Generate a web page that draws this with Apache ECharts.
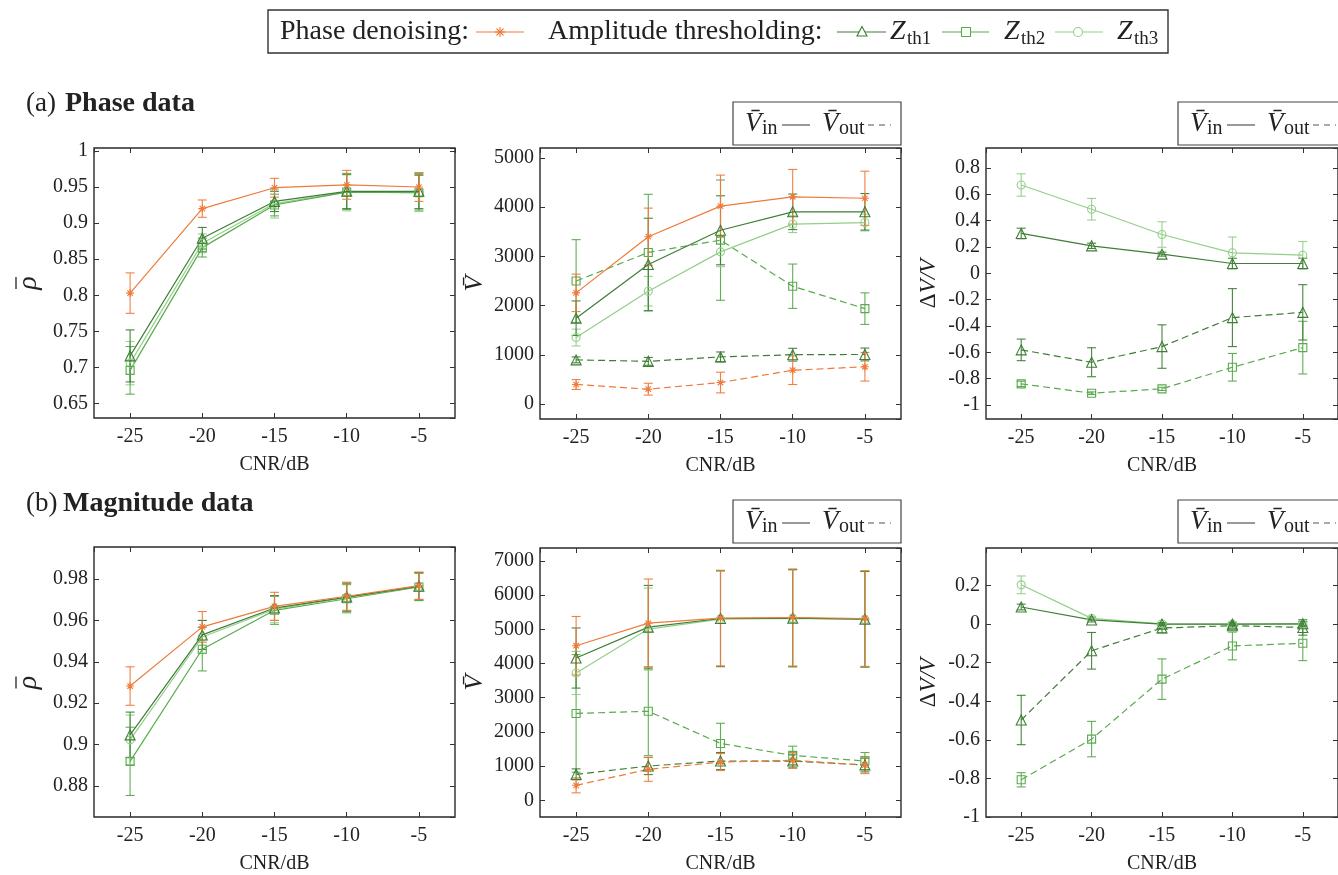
<!DOCTYPE html>
<html>
<head>
<meta charset="utf-8">
<script src="https://cdn.jsdelivr.net/npm/echarts@6/dist/echarts.min.js"></script>
<style>html,body{margin:0;padding:0;background:#fff}#c{width:1338px;height:875px}</style>
</head>
<body>
<div id="c"></div>
<script>
// ---------------- DATA ----------------
const cnr = [-25, -20, -15, -10, -5];

// (a) Phase data — mean correlation rho
const a_rho_phase = [0.803, 0.920, 0.949, 0.953, 0.950];
const a_rho_phase_err = [0.028, 0.012, 0.013, 0.020, 0.020];
const a_rho_z1 = [0.716, 0.879, 0.930, 0.944, 0.944];
const a_rho_z1_err = [0.036, 0.015, 0.014, 0.024, 0.024];
const a_rho_z2 = [0.696, 0.866, 0.925, 0.943, 0.942];
const a_rho_z2_err = [0.033, 0.013, 0.015, 0.024, 0.024];
const a_rho_z3 = [0.706, 0.872, 0.927, 0.943, 0.942];
const a_rho_z3_err = [0.030, 0.013, 0.020, 0.026, 0.026];

// (a) Phase data — mean V
const a_v_phase_in = [2260, 3400, 4020, 4210, 4180];
const a_v_phase_in_err = [380, 580, 630, 555, 550];
const a_v_phase_out = [400, 305, 440, 690, 760];
const a_v_phase_out_err = [100, 120, 210, 290, 290];
const a_v_z1_in = [1746, 2835, 3530, 3905, 3905];
const a_v_z1_in_err = [350, 940, 700, 360, 370];
const a_v_z1_out = [900, 870, 960, 1005, 1010];
const a_v_z1_out_err = [60, 80, 100, 130, 130];
const a_v_z2_out = [2500, 3080, 3330, 2395, 1940];
const a_v_z2_out_err = [840, 1180, 1220, 450, 320];
const a_v_z3_in = [1353, 2294, 3092, 3654, 3687];
const a_v_z3_in_err = [170, 300, 300, 170, 170];

// (a) Phase data — relative change dV/V
const a_dv_z3_in = [0.671, 0.487, 0.295, 0.156, 0.138];
const a_dv_z3_in_err = [0.085, 0.082, 0.097, 0.120, 0.104];
const a_dv_z1_in = [0.303, 0.209, 0.146, 0.075, 0.075];
const a_dv_z1_in_err = [0.040, 0.020, 0.015, 0.040, 0.040];
const a_dv_z1_out = [-0.581, -0.675, -0.556, -0.336, -0.296];
const a_dv_z1_out_err = [0.082, 0.110, 0.165, 0.220, 0.210];
const a_dv_z2_out = [-0.839, -0.910, -0.877, -0.713, -0.564];
const a_dv_z2_out_err = [0.020, 0.010, 0.012, 0.105, 0.200];

// (b) Magnitude data — mean correlation rho
const b_rho_phase = [0.9283, 0.9569, 0.9668, 0.9717, 0.9768];
const b_rho_phase_err = [0.0093, 0.0074, 0.0068, 0.0068, 0.0066];
const b_rho_z1 = [0.9047, 0.9530, 0.9660, 0.9713, 0.9765];
const b_rho_z1_err = [0.0110, 0.0070, 0.0060, 0.0068, 0.0066];
const b_rho_z2 = [0.8919, 0.9461, 0.9649, 0.9705, 0.9762];
const b_rho_z2_err = [0.0165, 0.0105, 0.0068, 0.0068, 0.0066];
const b_rho_z3 = [0.9023, 0.9520, 0.9654, 0.9710, 0.9765];
const b_rho_z3_err = [0.0120, 0.0080, 0.0065, 0.0068, 0.0066];

// (b) Magnitude data — mean V
const b_v_phase_in = [4521, 5182, 5328, 5347, 5318];
const b_v_phase_in_err = [855, 1290, 1400, 1420, 1400];
const b_v_phase_out = [437, 904, 1118, 1167, 1030];
const b_v_phase_out_err = [220, 350, 250, 230, 250];
const b_v_z1_in = [4161, 5065, 5318, 5328, 5298];
const b_v_z1_in_err = [880, 1220, 1400, 1420, 1400];
const b_v_z1_out = [758, 1001, 1147, 1147, 1030];
const b_v_z1_out_err = [160, 250, 250, 200, 200];
const b_v_z2_out = [2540, 2604, 1662, 1312, 1147];
const b_v_z2_out_err = [1720, 1300, 590, 270, 250];
const b_v_z3_in = [3723, 5007, 5300, 5320, 5290];
const b_v_z3_in_err = [630, 1200, 1400, 1420, 1400];

// (b) Magnitude data — relative change dV/V
const b_dv_z3_in = [0.204, 0.030, 0.002, 0.000, 0.000];
const b_dv_z3_in_err = [0.046, 0.010, 0.008, 0.008, 0.008];
const b_dv_z1_in = [0.089, 0.022, 0.000, 0.000, 0.002];
const b_dv_z1_in_err = [0.015, 0.010, 0.008, 0.010, 0.012];
const b_dv_z1_out = [-0.497, -0.138, -0.020, -0.008, -0.017];
const b_dv_z1_out_err = [0.128, 0.095, 0.025, 0.012, 0.040];
const b_dv_z2_out = [-0.807, -0.596, -0.285, -0.113, -0.099];
const b_dv_z2_out_err = [0.037, 0.092, 0.105, 0.072, 0.090];

// ---------------- STYLE ----------------
const FONT = '"Liberation Serif", "Times New Roman", serif';
const C_OR = '#EF7A3A', C_DK = '#3E7E35', C_MD = '#5AAA4E', C_LT = '#93CF89';
const ASTER = 'path://M5 0L5 10M0 5L10 5M1.6 1.6L8.4 8.4M1.6 8.4L8.4 1.6';
const SYM = {or: [ASTER, 8], z1: ['triangle', 10], z2: ['rect', 8], z3: ['circle', 8]};
const COL = {or: C_OR, z1: C_DK, z2: C_MD, z3: C_LT};

const panels = [
  {left: 94, top: 148, width: 361, height: 270, ymin: 0.63, ymax: 1.004, split: 7, hideMin: true, hideMax: true, name: 'rho',
   fmt: v => String(+v.toFixed(3)),
   series: [
     ['z3', a_rho_z3, a_rho_z3_err, false], ['z2', a_rho_z2, a_rho_z2_err, false],
     ['z1', a_rho_z1, a_rho_z1_err, false], ['or', a_rho_phase, a_rho_phase_err, false]]},
  {left: 540, top: 148, width: 361, height: 271, ymin: -300, ymax: 5200, split: 5, hideMin: true, hideMax: true, name: 'V̄', gap: 52,
   fmt: v => String(v),
   series: [
     ['z2', a_v_z2_out, a_v_z2_out_err, true], ['z3', a_v_z3_in, a_v_z3_in_err, false],
     ['z1', a_v_z1_out, a_v_z1_out_err, true], ['z1', a_v_z1_in, a_v_z1_in_err, false],
     ['or', a_v_phase_out, a_v_phase_out_err, true], ['or', a_v_phase_in, a_v_phase_in_err, false]]},
  {left: 986, top: 148, width: 360, height: 271, ymin: -1.106, ymax: 0.952, split: 10, hideMin: true, hideMax: true, name: 'dv', gap: 46,
   fmt: v => String(+v.toFixed(2)),
   series: [
     ['z2', a_dv_z2_out, a_dv_z2_out_err, true], ['z1', a_dv_z1_out, a_dv_z1_out_err, true],
     ['z3', a_dv_z3_in, a_dv_z3_in_err, false], ['z1', a_dv_z1_in, a_dv_z1_in_err, false]]},
  {left: 94, top: 547, width: 361, height: 271, ymin: 0.865, ymax: 0.9955, split: 6, hideMin: true, hideMax: true, name: 'rho',
   fmt: v => String(+v.toFixed(3)),
   series: [
     ['z2', b_rho_z2, b_rho_z2_err, false], ['z3', b_rho_z3, b_rho_z3_err, false],
     ['z1', b_rho_z1, b_rho_z1_err, false], ['or', b_rho_phase, b_rho_phase_err, false]]},
  {left: 540, top: 548, width: 361, height: 270, ymin: -490, ymax: 7380, split: 8, hideMin: true, hideMax: true, name: 'V̄', gap: 52,
   fmt: v => String(v),
   series: [
     ['z2', b_v_z2_out, b_v_z2_out_err, true], ['z3', b_v_z3_in, b_v_z3_in_err, false],
     ['z1', b_v_z1_out, b_v_z1_out_err, true], ['z1', b_v_z1_in, b_v_z1_in_err, false],
     ['or', b_v_phase_out, b_v_phase_out_err, true], ['or', b_v_phase_in, b_v_phase_in_err, false]]},
  {left: 986, top: 548, width: 360, height: 270, ymin: -1, ymax: 0.395, split: 7, hideMin: false, hideMax: true, name: 'dv', gap: 46,
   fmt: v => String(+v.toFixed(2)),
   series: [
     ['z2', b_dv_z2_out, b_dv_z2_out_err, true], ['z1', b_dv_z1_out, b_dv_z1_out_err, true],
     ['z3', b_dv_z3_in, b_dv_z3_in_err, false], ['z1', b_dv_z1_in, b_dv_z1_in_err, false]]}
];

const grid = [], xAxis = [], yAxis = [], series = [];
const graphic = [];
const tickStyle = {show: true, inside: true, length: 5, lineStyle: {color: '#333', width: 1}};
panels.forEach((p, i) => {
  grid.push({left: p.left, top: p.top, width: p.width, height: p.height, show: true,
             borderColor: '#2a2a2a', borderWidth: 1.4, backgroundColor: 'transparent'});
  const xb = {type: 'value', gridIndex: i, min: -27.5, max: -2.5, splitNumber: 5,
              splitLine: {show: false}, axisLine: {show: false, onZero: false}, axisTick: tickStyle};
  xAxis.push(Object.assign({}, xb, {position: 'bottom', name: 'CNR/dB', nameLocation: 'middle', nameGap: 37,
    nameTextStyle: {fontFamily: FONT, fontSize: 20, color: '#222'},
    axisLabel: {fontFamily: FONT, fontSize: 20, color: '#222', margin: 9, showMinLabel: false, showMaxLabel: false}}));
  xAxis.push(Object.assign({}, xb, {position: 'top', axisLabel: {show: false}}));
  const yb = {type: 'value', gridIndex: i, min: p.ymin, max: p.ymax, splitNumber: p.split,
              splitLine: {show: false}, axisLine: {show: false, onZero: false}, axisTick: tickStyle};
  let nameOpts = {};
  if (p.name === 'dv') {
    nameOpts = {name: '{d|Δ}{v|V/V}', nameLocation: 'middle', nameGap: p.gap, nameRotate: 90,
      nameTextStyle: {rich: {d: {fontFamily: FONT, fontSize: 23, color: '#222'},
                             v: {fontFamily: FONT, fontStyle: 'italic', fontSize: 23, color: '#222'}}}};
  } else if (p.name === 'V̄') {
    nameOpts = {name: '{v|V̄}', nameLocation: 'middle', nameGap: p.gap, nameRotate: 90,
      nameTextStyle: {rich: {v: {fontFamily: FONT, fontStyle: 'italic', fontSize: 26, color: '#222'}}}};
  } else {
    // rho with overbar drawn as label graphics (rotated)
    const cy = p.top + p.height / 2;
    graphic.push({type: 'text', silent: true, x: 29, y: cy, rotation: Math.PI / 2,
      style: {text: 'ρ', fontFamily: FONT, fontStyle: 'italic', fontSize: 28, fill: '#222', align: 'center', verticalAlign: 'middle'}});
    graphic.push({type: 'line', silent: true, shape: {x1: 16, y1: cy - 6, x2: 16, y2: cy + 6}, style: {stroke: '#222', lineWidth: 1.3}});
  }
  yAxis.push(Object.assign({}, yb, nameOpts, {position: 'left',
    axisLabel: {fontFamily: FONT, fontSize: 20, color: '#222', margin: 6, formatter: p.fmt,
                showMinLabel: !p.hideMin, showMaxLabel: !p.hideMax}}));
  yAxis.push(Object.assign({}, yb, {position: 'right', axisLabel: {show: false}}));

  p.series.forEach(s => {
    const [key, ys, es, dashed] = s;
    const col = COL[key];
    series.push({
      type: 'custom', xAxisIndex: 2 * i, yAxisIndex: 2 * i, z: 2, silent: true, clip: false,
      data: cnr.map((x, k) => [x, ys[k], es[k]]),
      encode: {x: 0, y: 1},
      renderItem: (params, api) => {
        const x = api.value(0), y = api.value(1), e = api.value(2);
        const p1 = api.coord([x, y + e]), p2 = api.coord([x, y - e]);
        const w = 4.5, st = {stroke: col, lineWidth: 1.1, opacity: 0.95};
        return {type: 'group', children: [
          {type: 'line', shape: {x1: p1[0], y1: p1[1], x2: p2[0], y2: p2[1]}, style: st},
          {type: 'line', shape: {x1: p1[0] - w, y1: p1[1], x2: p1[0] + w, y2: p1[1]}, style: st},
          {type: 'line', shape: {x1: p2[0] - w, y1: p2[1], x2: p2[0] + w, y2: p2[1]}, style: st}
        ]};
      }
    });
    series.push({
      type: 'line', xAxisIndex: 2 * i, yAxisIndex: 2 * i, z: 3, silent: true,
      data: cnr.map((x, k) => [x, ys[k]]),
      symbol: SYM[key][0], symbolSize: SYM[key][1], showAllSymbol: true,
      itemStyle: {color: 'rgba(255,255,255,0)', borderColor: col, borderWidth: 1.1},
      lineStyle: {color: col, width: 1.2, type: dashed ? [7, 4] : 'solid'}
    });
  });
});

// ---------------- GRAPHIC (titles, legends) ----------------
const txt = (x, y, s, size, extra) => Object.assign({type: 'text', x: x, y: y, silent: true,
  style: Object.assign({text: s, fontFamily: FONT, fontSize: size, fill: '#222', verticalAlign: 'middle', align: 'left'}, extra || {})});
const ln = (x1, y1, x2, y2, col, dash, w) => ({type: 'line', silent: true, shape: {x1, y1, x2, y2},
  style: {stroke: col, lineWidth: w || 1.2, lineDash: dash || null}});

// main legend
graphic.push({type: 'rect', shape: {x: 268, y: 10, width: 900, height: 43}, style: {fill: '#fff', stroke: '#333', lineWidth: 1.4}, silent: true});
graphic.push(txt(280, 32, 'Phase denoising:', 28));
graphic.push(ln(476, 32, 524, 32, C_OR));
[[500, 27, 500, 37], [495, 32, 505, 32], [496.5, 28.5, 503.5, 35.5], [496.5, 35.5, 503.5, 28.5]].forEach(a => graphic.push(ln(a[0], a[1], a[2], a[3], C_OR, null, 1.1)));
graphic.push(txt(548, 32, 'Amplitude thresholding:', 28));
graphic.push(ln(837, 32, 886, 32, C_DK));
graphic.push({type: 'polygon', silent: true, shape: {points: [[862, 26.5], [867, 36], [857, 36]]}, style: {fill: '#fff', stroke: C_DK, lineWidth: 1.1}});
graphic.push(txt(890, 32, 'Z', 28, {fontStyle: 'italic'}));
graphic.push(txt(907, 39, 'th1', 19));
graphic.push(ln(942, 32, 989, 32, C_MD));
graphic.push({type: 'rect', silent: true, shape: {x: 961.5, y: 27.5, width: 9, height: 9}, style: {fill: '#fff', stroke: C_MD, lineWidth: 1.1}});
graphic.push(txt(1004, 32, 'Z', 28, {fontStyle: 'italic'}));
graphic.push(txt(1021, 39, 'th2', 19));
graphic.push(ln(1055, 32, 1103, 32, C_LT));
graphic.push({type: 'circle', silent: true, shape: {cx: 1078, cy: 32, r: 4.5}, style: {fill: '#fff', stroke: C_LT, lineWidth: 1.1}});
graphic.push(txt(1117, 32, 'Z', 28, {fontStyle: 'italic'}));
graphic.push(txt(1134, 39, 'th3', 19));

// panel titles
graphic.push(txt(26, 104, '(a)', 27));
graphic.push(txt(65, 104, 'Phase data', 28, {fontWeight: 'bold'}));
graphic.push(txt(26, 504, '(b)', 27));
graphic.push(txt(63, 504, 'Magnitude data', 28, {fontWeight: 'bold'}));

// in/out legends
[[733, 102], [1178, 102], [733, 500], [1178, 500]].forEach(b => {
  const x = b[0], y = b[1], cy = y + 22;
  graphic.push({type: 'rect', silent: true, shape: {x: x, y: y, width: 168, height: 43}, style: {fill: '#fff', stroke: '#444', lineWidth: 1.2}});
  graphic.push(txt(x + 12, cy, 'V̄', 27, {fontStyle: 'italic'}));
  graphic.push(txt(x + 29, cy + 5, 'in', 20));
  graphic.push(ln(x + 49, cy + 1, x + 77, cy + 1, '#555'));
  graphic.push(txt(x + 89, cy, 'V̄', 27, {fontStyle: 'italic'}));
  graphic.push(txt(x + 106, cy + 5, 'out', 20));
  graphic.push(ln(x + 135, cy + 1, x + 158, cy + 1, '#555', [6, 5]));
});

const chart = echarts.init(document.getElementById('c'), null, {renderer: 'canvas'});
chart.setOption({animation: false, backgroundColor: '#fff', grid, xAxis, yAxis, series, graphic});
</script>
</body>
</html>
